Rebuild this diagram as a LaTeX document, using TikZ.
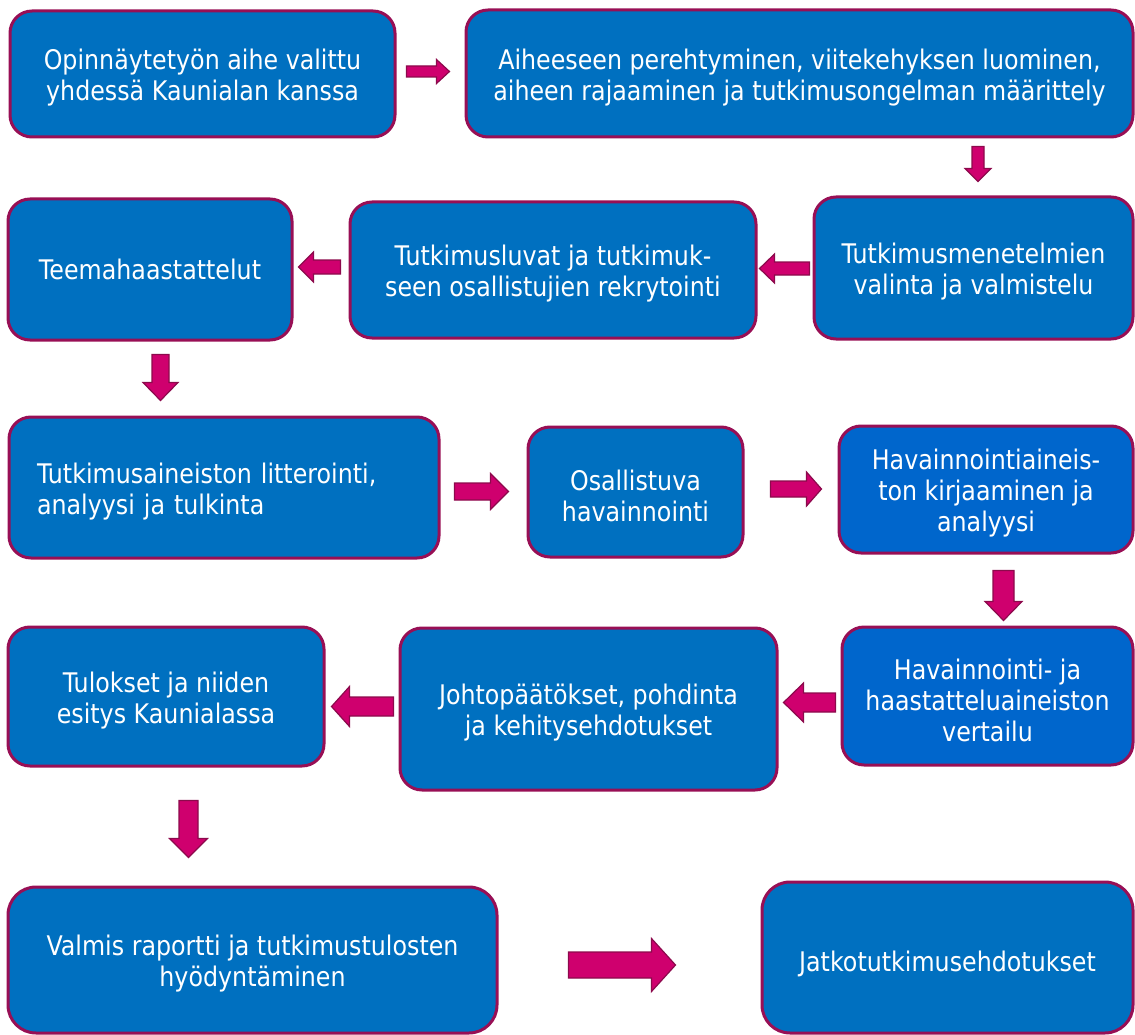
\documentclass[tikz,border=0pt]{standalone}
\usepackage{fontspec}
\setmainfont{DejaVu Sans}[FakeStretch=0.88]
\usetikzlibrary{calc}

\definecolor{boxblue}{HTML}{0070C0}
\definecolor{boxbluelight}{HTML}{0066CC}
\definecolor{boxedge}{HTML}{980F55}
\definecolor{arrowfill}{HTML}{CF006E}
\definecolor{arrowedge}{HTML}{8C0A4C}

\tikzset{
  stage/.style={draw=boxedge, line width=3pt, fill=boxblue,
    rounded corners=22pt, inner sep=0pt},
  stagetext/.style={text=white, align=center, inner sep=0pt, yshift=-4pt,
    font=\fontsize{27}{31}\selectfont},
  flowarrow/.style={fill=arrowfill, draw=arrowedge, line width=1.2pt, line join=miter}
}

% block arrow: start, tip, shaft half-width, head half-width, head length
\newcommand{\blockarrow}[5]{%
  \coordinate (ba-s) at #1;
  \coordinate (ba-e) at #2;
  \coordinate (ba-h) at ($(ba-e)!#5!(ba-s)$);
  \draw[flowarrow] ($(ba-s)!#3!90:(ba-e)$) -- ($(ba-h)!#3!90:(ba-e)$)
    -- ($(ba-h)!#4!90:(ba-e)$) -- (ba-e) -- ($(ba-h)!#4!-90:(ba-e)$)
    -- ($(ba-h)!#3!-90:(ba-e)$) -- ($(ba-s)!#3!-90:(ba-e)$) -- cycle;
}

\begin{document}
\begin{tikzpicture}[x=1pt, y=-1pt]
\useasboundingbox (0,0) rectangle (1135,1035);

% row 1
\node[stage, minimum width=385pt, minimum height=126pt,
  label={[stagetext]center:{Opinnäytetyön aihe valittu\\yhdessä Kaunialan kanssa}}] (A) at (202.5,74) {};
\node[stage, minimum width=667pt, minimum height=127pt,
  label={[stagetext]center:{Aiheeseen perehtyminen, viitekehyksen luominen,\\aiheen rajaaminen ja tutkimusongelman määrittely}}] (B) at (799.5,73.5) {};

% row 2
\node[stage, minimum width=319pt, minimum height=142pt,
  label={[stagetext]center:{Tutkimusmenetelmien\\valinta ja valmistelu}}] (C) at (973.5,268) {};
\node[stage, minimum width=406pt, minimum height=136pt,
  label={[stagetext]center:{Tutkimusluvat ja tutkimuk-\\seen osallistujien rekrytointi}}] (D) at (553,270) {};
\node[stage, minimum width=284pt, minimum height=141pt,
  label={[stagetext, yshift=4pt]center:{Teemahaastattelut}}] (E) at (150,269.5) {};

% row 3
\node[stage, minimum width=430pt, minimum height=141pt,
  label={[stagetext, text width=374pt, align=left]center:{Tutkimusaineiston litterointi,\\analyysi ja tulkinta}}] (F) at (224,487.5) {};
\node[stage, minimum width=215pt, minimum height=130pt,
  label={[stagetext]center:{Osallistuva\\havainnointi}}] (G) at (635.5,492) {};
\node[stage, fill=boxbluelight, minimum width=294pt, minimum height=127pt,
  label={[stagetext]center:{Havainnointiaineis-\\ton kirjaaminen ja\\analyysi}}] (H) at (986,489.5) {};

% row 4
\node[stage, fill=boxbluelight, minimum width=291pt, minimum height=138pt,
  label={[stagetext]center:{Havainnointi- ja\\haastatteluaineiston\\vertailu}}] (I) at (987.5,696) {};
\node[stage, minimum width=377pt, minimum height=162pt,
  label={[stagetext]center:{Johtopäätökset, pohdinta\\ja kehitysehdotukset}}] (J) at (588.5,709) {};
\node[stage, minimum width=316pt, minimum height=139pt,
  label={[stagetext]center:{Tulokset ja niiden\\esitys Kaunialassa}}] (K) at (166,696.5) {};

% row 5
\node[stage, rounded corners=28pt, minimum width=489pt, minimum height=146pt,
  label={[stagetext]center:{Valmis raportti ja tutkimustulosten\\hyödyntäminen}}] (L) at (252.5,960) {};
\node[stage, rounded corners=28pt, minimum width=371pt, minimum height=151pt,
  label={[stagetext, yshift=-2pt]center:{Jatkotutkimusehdotukset}}] (M) at (947.5,957.5) {};

% connectors
\blockarrow{($(A.east)+(10,-2.5)$)}{($(B.west)+(-15,-2)$)}{5.5pt}{12pt}{13pt}
\blockarrow{($(C.north|-B.south)+(4.5,8)$)}{($(C.north)+(4.5,-14)$)}{6pt}{13pt}{13pt}
\blockarrow{($(C.west)+(-3,0.5)$)}{($(D.east)+(2,-1.5)$)}{6.5pt}{14.5pt}{15pt}
\blockarrow{($(D.west)+(-8,-3)$)}{($(E.east)+(5,-2.5)$)}{7pt}{15pt}{15pt}
\blockarrow{($(E.south)+(10.5,13)$)}{($(F.north-|E.south)+(10.5,-15)$)}{8.5pt}{17.5pt}{18pt}
\blockarrow{($(F.east)+(14,4)$)}{($(G.west)+(-18,-0.5)$)}{8.5pt}{18pt}{18pt}
\blockarrow{($(G.east)+(26,-3)$)}{($(H.west)+(-16,-0.5)$)}{8pt}{17pt}{15pt}
\blockarrow{($(H.south)+(17.5,16)$)}{($(I.north-|H.south)+(17.5,-5)$)}{10.5pt}{18.5pt}{19pt}
\blockarrow{($(I.west)+(-5,6.5)$)}{($(J.east)+(5,-6.5)$)}{9.5pt}{19.5pt}{20pt}
\blockarrow{($(J.west)+(-5,-2.5)$)}{($(K.east)+(6,10)$)}{9.5pt}{20pt}{18pt}
\blockarrow{($(K.south)+(22.5,33)$)}{($(L.north-|K.south)+(22.5,-28)$)}{9.5pt}{19pt}{19pt}
\blockarrow{($(L.east)+(70,5)$)}{($(M.west)+(-85,7.5)$)}{13pt}{26.5pt}{24pt}
\end{tikzpicture}
\end{document}
